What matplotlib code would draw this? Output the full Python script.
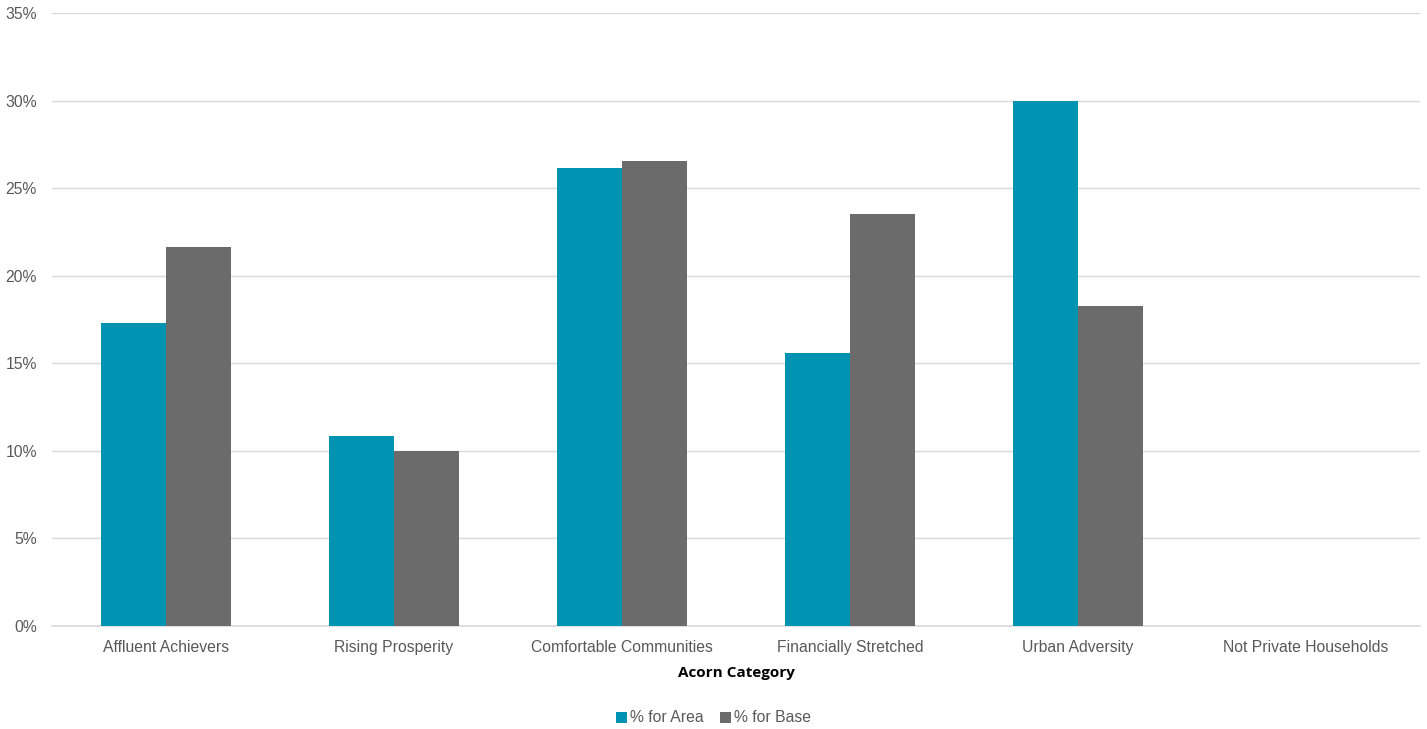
import matplotlib
matplotlib.use("Agg")
import matplotlib.pyplot as plt
import numpy as np
from matplotlib.ticker import PercentFormatter

categories = ["Affluent Achievers", "Rising Prosperity", "Comfortable Communities",
              "Financially Stretched", "Urban Adversity", "Not Private Households"]
area_pct = [17.3, 10.85, 26.15, 15.6, 30.0, 0.01]
base_pct = [21.65, 10.0, 26.55, 23.5, 18.25, 0.02]
series_names = ["% for Area", "% for Base"]
colors = ["#0093B2", "#6A6B6A"]

plt.rcParams['font.family'] = ['Liberation Sans', 'DejaVu Sans']

fig = plt.figure(figsize=(14.27, 7.29), dpi=100)
ax = fig.add_axes([52/1427, 1 - 626/729, 1368/1427, 613/729])

x = np.arange(len(categories))
w = 0.285
ax.bar(x - w/2, area_pct, w, color=colors[0], label=series_names[0], zorder=3)
ax.bar(x + w/2, base_pct, w, color=colors[1], label=series_names[1], zorder=3)

ax.set_xlim(-0.5, len(categories) - 0.5)
ax.set_ylim(0, 35)
ax.set_yticks(np.arange(0, 36, 5))
ax.yaxis.set_major_formatter(PercentFormatter(decimals=0))
ax.grid(axis='y', color='#D9D9D9', linewidth=1, zorder=0)
for s in ['top', 'right', 'left']:
    ax.spines[s].set_visible(False)
ax.spines['bottom'].set_color('#D9D9D9')
ax.spines['bottom'].set_linewidth(1.2)
ax.tick_params(axis='both', length=0, labelsize=11.3, labelcolor='#595959')
ax.tick_params(axis='x', pad=10)
ax.set_xticks(x)
ax.set_xticklabels(categories)
ax.tick_params(axis='y', pad=10.8)

ax.set_xlabel("Acorn Category", fontsize=11, fontweight='bold', color='black',
              family=['Open Sans', 'DejaVu Sans'], labelpad=8)

leg = fig.legend(loc='center', bbox_to_anchor=(0.5, 1 - 718/729), ncol=2, frameon=False,
                 fontsize=11.3, handlelength=0.7, handleheight=0.7, handletextpad=0.2,
                 columnspacing=1.0, labelcolor='#595959')

fig.savefig("out.png", dpi=100)
